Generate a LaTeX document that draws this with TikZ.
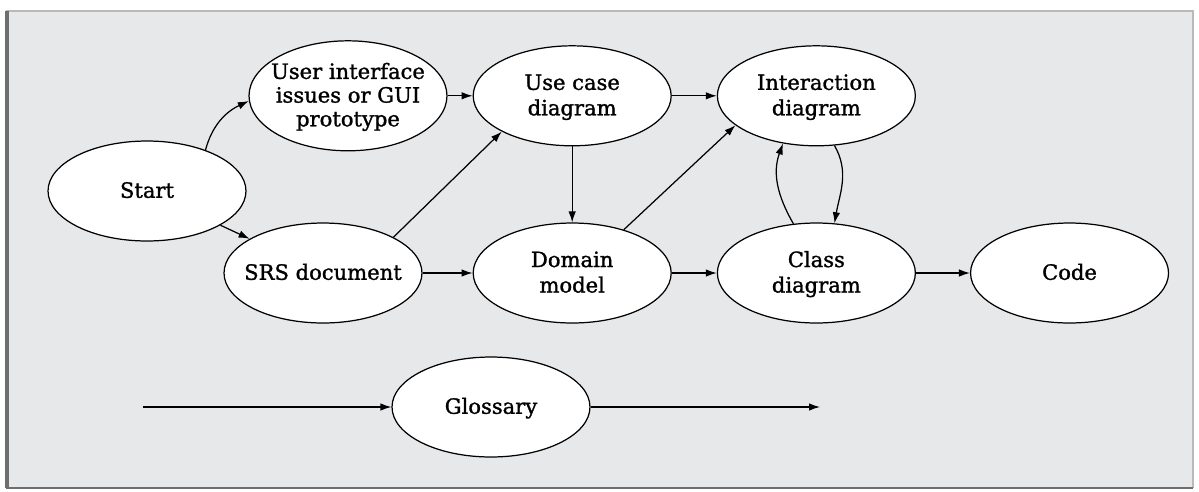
\documentclass[tikz,border=0pt]{standalone}
\usepackage{fontspec}
\setmainfont{DejaVu Serif}[FakeBold=1.3]
\usetikzlibrary{arrows.meta,positioning,shapes.geometric}
\definecolor{panel}{RGB}{231,232,234}
\definecolor{rim}{RGB}{110,110,110}
\newcommand{\etxt}[1]{\makebox[0pt]{\smash{\raisebox{-0.33em}{\begin{tabular}{@{}c@{}}#1\end{tabular}}}}}

\begin{document}
\begin{tikzpicture}[x=0.02cm, y=-0.02cm,
  proc/.style={draw, ellipse, fill=white, line width=0.7pt, inner sep=0pt, minimum width=3.96cm, minimum height=2cm, font=\fontsize{12}{14.5}\selectfont},
  arr/.style={-{Latex[length=2.2mm,width=1.5mm]}, line width=0.7pt},
  node distance=1cm and 1cm
]
  \useasboundingbox (0,0) rectangle (1199,491);
  % panel
  \fill[panel] (6,11) rectangle (1193,488);
  \draw[gray!55, line width=0.8pt] (6,11) -- (1193,11) -- (1193,488);
  \draw[rim, line width=1.2pt] (6,488) -- (1193,488);
  \draw[rim, line width=2.5pt] (7,11) -- (7,488);

  \node[proc] (start) at (147,191) {\etxt{Start}};
  \node[proc] (srs) at (323,273) {\etxt{SRS document}};
  \node[proc, right=1cm of srs] (dom) {\etxt{Domain\\model}};
  \node[proc, right=0.9cm of dom] (cls) {\etxt{Class\\diagram}};
  \node[proc, right=1.08cm of cls] (code) {\etxt{Code}};
  \node[proc, above=1.52cm of dom] (uc) {\etxt{Use case\\diagram}};
  \node[proc, above=1.52cm of cls] (inter) {\etxt{Interaction\\diagram}};
  \node[proc, minimum height=2.2cm, left=0.5cm of uc] (ui) {\etxt{User interface\\[-1pt]issues or GUI\\[-1pt]prototype}};
  \node[proc] (gloss) at (491,407) {\etxt{Glossary}};
  \coordinate (gin) at (143,407);
  \coordinate (gout) at (820,407);

  \draw[arr] (start.35) to[out=75, in=205] (ui.183);
  \draw[arr] (start) -- (srs);
  \draw[arr] (ui) -- (uc);
  \draw[arr] (uc) -- (inter);
  \draw[arr] (srs) -- (dom);
  \draw[arr] (dom) -- (cls);
  \draw[arr] (cls) -- (code);
  \draw[arr] (srs.north east) -- (uc.south west);
  \draw[arr] (uc) -- (dom);
  \draw[arr] (dom.40) -- (inter.200);
  \draw[arr] (cls.115) to[out=120, in=250] (inter.235);
  \draw[arr] (inter.-70) to[out=-60, in=80] (cls.70);
  \draw[arr] (gin) -- (gloss);
  \draw[arr] (gloss) -- (gout);
\end{tikzpicture}
\end{document}
